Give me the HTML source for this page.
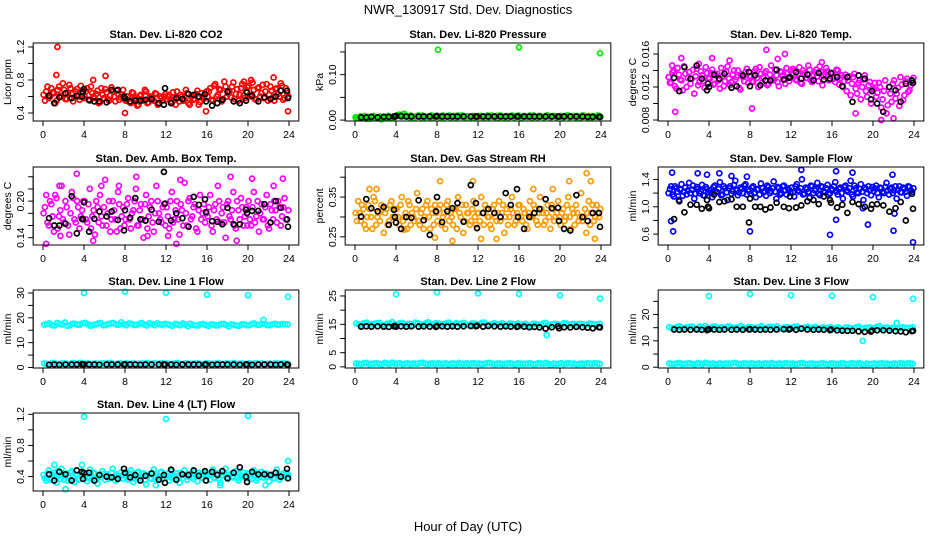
<!DOCTYPE html>
<html><head><meta charset="utf-8"><title>NWR_130917 Std. Dev. Diagnostics</title>
<style>
html,body{margin:0;padding:0;background:#fff;}
svg{display:block;font-family:"Liberation Sans",Arial,sans-serif;}
</style></head>
<body>
<svg id="chart" width="936" height="540" viewBox="0 0 936 540">
<text x="468" y="14" text-anchor="middle" font-size="13">NWR_130917  Std. Dev. Diagnostics</text>
<text x="468" y="531" text-anchor="middle" font-size="13">Hour of Day (UTC)</text>
</svg>
<script>
// shared reference-measurement hours (black points)
const blackHours=[0.6,1.1,1.6,2.2,2.8,3.3,3.8,3.9,4.0,4.5,5.0,5.5,6.2,6.7,7.3,7.9,8.0,8.5,9.0,9.5,10.0,10.6,11.3,11.8,11.9,12.5,13.0,13.6,14.2,14.7,15.2,15.8,15.9,16.5,17.0,17.5,18.0,18.6,19.2,19.8,19.9,20.4,21.0,21.6,22.2,22.7,23.2,23.8,23.9];
const xTicks=[0,4,8,12,16,20,24];
const xTickLabels=["0","4","8","12","16","20","24"];

// Panel 1: CO2
const co2Cloud=[0.62,0.66,0.58,0.7,0.64,0.55,0.72,0.6,0.68,0.57,0.74,0.63,0.59,0.69,0.56,0.65,
0.6,0.7,0.55,0.64,0.58,0.67,0.53,0.62,0.69,0.57,0.61,0.66,0.54,0.63,0.59,0.68,
0.55,0.6,0.52,0.64,0.57,0.5,0.62,0.56,0.66,0.53,0.59,0.55,0.63,0.51,0.58,0.6,
0.57,0.62,0.52,0.59,0.66,0.54,0.6,0.56,0.64,0.5,0.61,0.57,0.67,0.53,0.6,0.62,
0.6,0.7,0.55,0.75,0.62,0.68,0.57,0.72,0.64,0.59,0.77,0.63,0.55,0.7,0.61,0.66,
0.73,0.6,0.68,0.56,0.71,0.64,0.58,0.75,0.62,0.67,0.55,0.7,0.6,0.73,0.58,0.64];
const co2Cloud2=[0.55,0.72,0.6,0.65,0.52,0.68,0.61,0.76,0.57,0.64,0.7,0.54,0.66,0.6,0.73,0.58,
0.66,0.56,0.72,0.6,0.63,0.52,0.7,0.58,0.65,0.55,0.71,0.6,0.67,0.56,0.62,0.57,
0.6,0.53,0.65,0.58,0.49,0.61,0.55,0.68,0.52,0.6,0.57,0.64,0.5,0.6,0.55,0.63,
0.6,0.54,0.65,0.5,0.58,0.62,0.55,0.68,0.52,0.6,0.56,0.63,0.5,0.64,0.57,0.66,
0.66,0.56,0.73,0.6,0.69,0.54,0.78,0.6,0.66,0.72,0.57,0.69,0.62,0.75,0.58,0.71,
0.62,0.77,0.57,0.7,0.6,0.74,0.66,0.55,0.72,0.59,0.69,0.63,0.76,0.56,0.7,0.6];
const co2ExtraHours=[1.4,1.3,6.1,8.0,15.9,23.9,22.5,4.9,19.6,20.3];
const co2ExtraVals=[1.2,0.86,0.85,0.4,0.42,0.42,0.83,0.8,0.78,0.8];
const co2Black=[0.61,0.52,0.59,0.64,0.58,0.61,0.6,0.66,0.69,0.56,0.54,0.54,0.53,0.68,0.68,0.6,0.58,0.54,0.55,0.55,0.56,0.57,0.52,0.5,0.7,0.52,0.58,0.57,0.63,0.62,0.6,0.63,0.54,0.49,0.52,0.56,0.66,0.54,0.52,0.55,0.65,0.61,0.54,0.59,0.57,0.6,0.67,0.67,0.58];
const co2Ticks=[0.4,0.6,0.8,1.0,1.2];
const co2TickLabels=["0.4","","0.8","","1.2"];

// Panel 2: Pressure
const presCloud=[.006,.004,.008,.005,.003,.007,.005,.009,.004,.006,.002,.007,.005,.008,.004,.006,
.010,.012,.007,.014,.009,.006,.008,.005,.009,.007,.010,.006,.008,.005,.009,.007,
.008,.006,.010,.007,.009,.005,.008,.006,.010,.007,.009,.005,.008,.006,.009,.007,
.007,.009,.005,.008,.006,.010,.007,.009,.005,.008,.006,.009,.007,.010,.006,.008,
.008,.006,.009,.007,.010,.005,.008,.006,.009,.007,.008,.010,.006,.009,.007,.008,
.009,.006,.008,.010,.007,.009,.005,.008,.006,.010,.007,.009,.006,.008,.007,.009];
const presCloud2=[.004,.007,.005,.009,.006,.003,.008,.006,.005,.008,.004,.006,.009,.005,.007,.008,
.011,.008,.013,.009,.007,.010,.006,.008,.010,.006,.009,.008,.007,.010,.006,.009,
.007,.009,.006,.008,.010,.007,.009,.006,.008,.010,.006,.009,.007,.008,.006,.009,
.009,.006,.008,.010,.007,.008,.006,.009,.010,.007,.008,.006,.009,.007,.008,.010,
.006,.009,.007,.008,.006,.010,.007,.009,.008,.006,.010,.007,.008,.009,.006,.008,
.007,.009,.010,.006,.008,.007,.009,.006,.010,.008,.006,.008,.009,.007,.010,.007];
const presExtraHours=[8.1,16.0,23.9];
const presExtraVals=[0.155,0.16,0.147];
const presBlack=[.006,.006,.007,.006,.007,.007,.008,.008,.009,.009,.008,.008,.008,.008,.008,.008,.009,.008,.008,.008,.008,.008,.008,.008,.008,.008,.008,.008,.008,.008,.008,.008,.008,.008,.008,.008,.008,.008,.008,.008,.008,.008,.008,.008,.008,.007,.007,.007,.007];
const presTicks=[0,0.05,0.10,0.15];
const presTickLabels=["0.00","","0.10",""];

// Panel 3: Li-820 Temp
const ltCloud=[.0132,.0125,.0140,.0118,.0135,.0128,.0145,.0120,.0138,.0130,.0112,.0142,.0126,.0134,.0119,.0137,
.0130,.0141,.0124,.0136,.0118,.0133,.0127,.0145,.0122,.0135,.0129,.0140,.0117,.0132,.0138,.0125,
.0133,.0126,.0142,.0120,.0136,.0131,.0139,.0124,.0146,.0128,.0134,.0121,.0138,.0130,.0143,.0127,
.0135,.0140,.0128,.0144,.0124,.0137,.0131,.0141,.0126,.0138,.0133,.0145,.0122,.0136,.0139,.0129,
.0137,.0126,.0140,.0131,.0120,.0135,.0128,.0110,.0132,.0118,.0125,.0105,.0129,.0115,.0122,.0100,
.0118,.0108,.0125,.0095,.0115,.0088,.0120,.0102,.0128,.0112,.0097,.0123,.0110,.0130,.0116,.0125];
const ltCloud2=[.0125,.0138,.0121,.0143,.0129,.0116,.0136,.0131,.0124,.0141,.0133,.0122,.0139,.0127,.0144,.0131,
.0137,.0123,.0134,.0128,.0143,.0121,.0138,.0130,.0126,.0140,.0132,.0119,.0136,.0127,.0142,.0133,
.0127,.0139,.0131,.0144,.0125,.0137,.0122,.0135,.0130,.0141,.0126,.0139,.0133,.0124,.0137,.0140,
.0142,.0129,.0136,.0125,.0140,.0131,.0146,.0128,.0135,.0141,.0127,.0138,.0133,.0143,.0128,.0136,
.0130,.0141,.0123,.0134,.0127,.0115,.0133,.0124,.0136,.0112,.0128,.0120,.0134,.0108,.0126,.0117,
.0125,.0113,.0120,.0105,.0128,.0098,.0112,.0124,.0106,.0119,.0132,.0104,.0127,.0114,.0122,.0131];
const ltExtraHours=[0.4,1.3,9.6,11.4,0.7,8.2,15.0,20.8,22.0,18.3,6.0,4.3,3.0,10.7];
const ltExtraVals=[.0146,.0155,.0165,.0160,.0090,.0094,.0150,.0080,.0082,.0088,.0152,.0155,.0148,.0154];
const ltBlack=[.0131,.0115,.0144,.0130,.0146,.0130,.0116,.0124,.0120,.0135,.0130,.0136,.0119,.0121,.0134,.0138,.0121,.0134,.0122,.0128,.0128,.0141,.0129,.0131,.0132,.0138,.0130,.0135,.0128,.0137,.0129,.0130,.0137,.0132,.0121,.0132,.0102,.0134,.0130,.0105,.0115,.0100,.0090,.0120,.0116,.0102,.0124,.0128,.0125];
const ltTicks=[0.008,0.010,0.012,0.014,0.016];
const ltTickLabels=["0.008","","0.012","","0.016"];

// Panel 4: Amb Box Temp
const abCloud=[.18,.21,.16,.195,.15,.205,.175,.225,.165,.19,.145,.215,.17,.2,.155,.185,
.2,.165,.22,.175,.145,.19,.21,.16,.235,.18,.15,.2,.17,.215,.155,.19,
.17,.205,.155,.185,.22,.16,.195,.14,.21,.175,.2,.15,.225,.18,.165,.195,
.19,.155,.215,.17,.2,.145,.185,.23,.16,.205,.175,.195,.15,.21,.18,.165,
.175,.21,.15,.195,.225,.165,.19,.14,.2,.17,.215,.155,.185,.205,.16,.19,
.2,.16,.215,.175,.15,.195,.17,.21,.155,.185,.2,.165,.19,.175,.205,.17];
const abCloud2=[.19,.165,.2,.175,.21,.155,.185,.17,.2,.16,.18,.205,.165,.19,.175,.2,
.17,.195,.155,.185,.2,.165,.175,.19,.16,.2,.17,.185,.15,.195,.175,.16,
.195,.17,.18,.2,.16,.185,.17,.195,.155,.19,.165,.18,.2,.17,.19,.16,
.175,.2,.165,.185,.17,.195,.16,.18,.2,.17,.19,.155,.185,.17,.195,.18,
.19,.16,.185,.17,.2,.18,.165,.195,.175,.185,.16,.2,.17,.19,.175,.16,
.17,.19,.165,.2,.18,.17,.19,.16,.195,.17,.185,.2,.16,.19,.17,.185];
const abExtraHours=[0.3,1.7,3.3,4.9,9.1,10.2,12.2,13.4,13.0,18.3,18.9,20.4,22.5,23.4,1.6,5.7,7.4];
const abExtraVals=[0.13,0.143,0.245,0.135,0.24,0.143,0.143,0.235,0.13,0.24,0.135,0.237,0.225,0.237,0.225,0.225,0.225];
const abBlack=[0.172,0.16,0.16,0.163,0.208,0.147,0.171,0.17,0.198,0.15,0.171,0.183,0.175,0.183,0.169,0.152,0.185,0.173,0.205,0.17,0.168,0.186,0.166,0.248,0.196,0.168,0.18,0.172,0.158,0.207,0.194,0.203,0.182,0.167,0.166,0.162,0.189,0.162,0.162,0.186,0.18,0.184,0.184,0.195,0.165,0.2,0.189,0.17,0.158];
const abTicks=[0.14,0.16,0.18,0.20,0.22,0.24];
const abTickLabels=["0.14","","","0.20","",""];

// Panel 5: Gas Stream RH
const rhCloud=[.31,.34,.29,.32,.27,.33,.30,.35,.28,.31,.33,.26,.32,.29,.34,.30,
.32,.28,.35,.30,.27,.33,.31,.29,.36,.28,.32,.30,.34,.27,.31,.33,
.29,.33,.30,.27,.34,.31,.28,.32,.35,.30,.26,.33,.31,.29,.34,.28,
.31,.35,.28,.32,.30,.27,.33,.29,.34,.31,.26,.32,.30,.35,.28,.31,
.33,.29,.31,.27,.34,.30,.32,.28,.35,.31,.29,.33,.27,.32,.30,.34,
.28,.32,.30,.35,.27,.31,.33,.29,.36,.30,.26,.34,.31,.29,.33,.30];
const rhCloud2=[.29,.31,.33,.28,.30,.32,.27,.34,.30,.29,.32,.31,.28,.33,.30,.32,
.30,.33,.29,.31,.34,.28,.30,.32,.29,.31,.27,.33,.30,.32,.28,.31,
.32,.28,.31,.33,.29,.30,.32,.27,.31,.33,.29,.31,.28,.32,.30,.31,
.29,.31,.33,.30,.28,.32,.30,.31,.29,.33,.30,.28,.32,.31,.29,.33,
.30,.32,.28,.31,.30,.33,.29,.31,.32,.28,.31,.30,.33,.29,.31,.30,
.31,.29,.33,.30,.32,.28,.31,.30,.29,.32,.31,.28,.33,.30,.31,.32];
const rhExtraHours=[4.8,7.8,8.3,11.5,12.3,13.8,17.4,22.6,23.0,23.4,9.5,1.4,2.1,19.3,20.9];
const rhExtraVals=[0.268,0.248,0.39,0.39,0.245,0.245,0.37,0.41,0.39,0.245,0.24,0.37,0.37,0.37,0.39];
const rhBlack=[0.301,0.345,0.322,0.314,0.325,0.28,0.318,0.3,0.286,0.27,0.3,0.298,0.342,0.292,0.255,0.314,0.35,0.287,0.314,0.322,0.335,0.288,0.38,0.335,0.272,0.31,0.32,0.31,0.30,0.36,0.33,0.37,0.30,0.27,0.30,0.31,0.32,0.345,0.322,0.323,0.29,0.27,0.266,0.355,0.3,0.29,0.31,0.31,0.275];
const rhTicks=[0.25,0.30,0.35,0.40];
const rhTickLabels=["0.25","","0.35",""];

// Panel 6: Sample Flow
const sfCloud=[1.2,1.3,1.15,1.27,1.1,1.33,1.22,1.18,1.35,1.25,1.12,1.29,1.2,1.32,1.16,1.26,
1.24,1.14,1.31,1.21,1.36,1.18,1.27,1.1,1.3,1.23,1.38,1.17,1.28,1.2,1.33,1.25,
1.19,1.3,1.14,1.26,1.34,1.21,1.16,1.29,1.23,1.37,1.12,1.27,1.2,1.31,1.18,1.25,
1.28,1.15,1.33,1.22,1.4,1.19,1.26,1.13,1.3,1.24,1.35,1.17,1.29,1.21,1.32,1.2,
1.25,1.36,1.18,1.28,1.12,1.31,1.22,1.38,1.15,1.27,1.2,1.33,1.1,1.26,1.3,1.17,
1.23,1.31,1.14,1.27,1.2,1.35,1.18,1.28,1.24,1.12,1.3,1.21,1.26,1.16,1.29,1.22];
const sfCloud2=[1.26,1.18,1.3,1.22,1.25,1.16,1.28,1.24,1.2,1.31,1.19,1.26,1.23,1.17,1.29,1.21,
1.2,1.29,1.22,1.26,1.17,1.3,1.21,1.27,1.19,1.32,1.24,1.21,1.26,1.31,1.18,1.23,
1.28,1.2,1.25,1.18,1.27,1.23,1.31,1.2,1.27,1.22,1.29,1.18,1.3,1.24,1.27,1.21,
1.21,1.3,1.24,1.27,1.18,1.28,1.22,1.31,1.2,1.26,1.19,1.3,1.23,1.27,1.18,1.26,
1.3,1.22,1.26,1.2,1.29,1.24,1.27,1.18,1.31,1.21,1.26,1.22,1.28,1.2,1.24,1.29,
1.27,1.2,1.28,1.22,1.29,1.24,1.26,1.2,1.3,1.25,1.21,1.28,1.22,1.3,1.24,1.27];
const sfExtraHours=[0.4,0.3,0.5,2.9,3.8,5.0,6.2,7.7,8.0,13.0,15.8,16.4,16.4,18.0,19.5,21.9,22.0,22.1,23.9,19.0];
const sfExtraVals=[1.5,0.79,0.64,1.49,1.47,1.49,1.45,1.44,0.64,1.54,0.59,0.81,1.52,1.5,0.74,1.47,0.65,0.9,0.48,0.98];
const sfBlack=[0.82,1.08,0.92,1.03,1.03,0.97,1.1,1.0,0.98,1.18,1.07,1.08,1.11,1.0,1.0,0.77,1.12,1.0,1.0,0.96,0.99,1.06,1.0,0.98,1.15,0.99,1.02,1.08,1.1,1.04,1.15,1.1,1.06,0.99,1.03,0.91,1.07,1.04,1.0,0.97,1.03,1.04,1.02,0.93,0.98,1.07,0.8,1.19,0.97];
const sfTicks=[0.6,0.8,1.0,1.2,1.4];
const sfTickLabels=["0.6","","1.0","","1.4"];

// Panel 7: Line 1 Flow
const l1Upper=[17.2,17.8,16.9,17.5,18.1,17.0,17.6,17.3,18.0,16.8,17.4,17.9,17.1,17.7,17.3,18.2,
17.0,17.6,17.2,17.9,16.9,17.5,17.8,17.1,17.4,16.8,17.3,17.7,16.6,17.2,16.9,17.5,
16.7,17.3,17.0,17.6,16.5,17.2,16.8,17.4,17.0,17.7,17.2,17.5,17.0,17.6,17.3,17.4];
const l1Upper2=[17.5,17.0,17.9,17.3,16.8,17.6,17.2,17.8,17.4,17.1,17.7,17.0,17.5,17.9,17.2,17.4,17.7,17.1,17.5,17.3,17.8,17.0,17.4,17.6,17.1,17.5,17.0,17.3,17.6,17.0,17.4,17.1,17.3,16.9,17.5,17.1,17.4,16.9,17.3,17.0,17.5,17.2,17.6,17.1,17.4,17.2,17.5,17.3];
const l1Lower=[1.6,1.4,1.8,1.5,1.7,1.3,1.6,1.9,1.5,1.4,1.7,1.6,1.5,1.8,1.4,1.6,1.7,1.5,1.3,1.6,1.8,1.5,1.4,1.7,1.6,1.5,1.8,1.4,1.6,1.5,1.7,1.3,1.6,1.5,1.7,1.4,1.6,1.8,1.5,1.4,1.7,1.6,1.5,1.3,1.6,1.7,1.5,1.6];
const l1Lower2=[1.5,1.7,1.4,1.6,1.5,1.8,1.4,1.6,1.7,1.5,1.4,1.6,1.8,1.5,1.6,1.4,1.5,1.7,1.6,1.4,1.5,1.7,1.6,1.5,1.4,1.7,1.5,1.6,1.4,1.6,1.5,1.7,1.5,1.6,1.4,1.7,1.5,1.4,1.6,1.5,1.4,1.7,1.6,1.5,1.4,1.6,1.7,1.5];
const l1ExtraHours=[4.0,8.0,12.0,16.0,20.0,23.9,21.5];
const l1ExtraVals=[30.0,30.5,30.1,29.3,29.1,28.5,19.2];
const l1Black=[1.1,1.2,1.1,1.2,1.2,1.2,1.3,1.2,1.3,1.2,1.2,1.1,1.2,1.2,1.2,1.2,1.3,1.2,1.2,1.1,1.2,1.2,1.2,1.2,1.2,1.2,1.1,1.2,1.2,1.2,1.2,1.2,1.2,1.1,1.2,1.2,1.2,1.2,1.1,1.2,1.2,1.1,1.2,1.2,1.2,1.1,1.2,1.2,1.1];
const l1Ticks=[0,5,10,15,20,25,30];
const l1TickLabels=["0","","10","","20","","30"];

// Panel 8: Line 2 Flow
const l2Upper=[15.3,14.8,15.6,15.0,15.4,14.7,15.2,15.8,14.9,15.5,15.1,14.6,15.4,15.0,15.7,14.8,
15.3,15.1,15.6,14.9,15.2,15.5,14.7,15.3,15.0,15.6,14.8,15.4,15.1,14.9,15.3,15.0,
14.6,15.2,14.4,15.1,14.8,15.5,14.9,15.2,14.7,15.3,15.0,14.8,15.2,14.9,15.1,15.0];
const l2Upper2=[15.0,15.4,14.9,15.2,15.5,14.8,15.3,15.0,15.4,14.9,15.2,15.6,14.9,15.3,15.1,15.4,15.0,15.3,14.9,15.4,15.1,14.8,15.3,15.0,15.5,14.9,15.2,15.0,15.4,14.8,15.1,15.3,15.0,14.7,15.2,14.9,15.3,14.8,15.1,15.0,15.4,14.9,15.2,15.1,14.8,15.3,15.0,15.2];
const l2Lower=[1.2,1.0,1.4,1.1,1.3,0.9,1.2,1.5,1.1,1.0,1.3,1.2,1.1,1.4,1.0,1.2,1.3,1.1,0.9,1.2,1.4,1.1,1.0,1.3,1.2,1.1,1.4,1.0,1.2,1.1,1.3,0.9,1.2,1.1,1.3,1.0,1.2,1.4,0.6,1.0,1.3,1.2,1.1,0.9,1.2,1.3,1.1,1.2];
const l2Lower2=[1.1,1.3,1.0,1.2,1.1,1.4,1.0,1.2,1.3,1.1,1.0,1.2,1.4,1.1,1.2,1.0,1.1,1.3,1.2,1.0,1.1,1.3,1.2,1.1,1.0,1.3,1.1,1.2,1.0,1.2,1.1,1.3,1.1,1.2,1.0,1.3,1.1,1.0,1.2,1.1,1.0,1.3,1.2,1.1,1.0,1.2,1.3,1.1];
const l2ExtraHours=[4.0,8.0,12.0,16.0,18.7,20.0,23.9];
const l2ExtraVals=[25.6,26.3,25.9,25.7,11.2,25.2,24.1];
const l2Black=[14.2,14.3,14.2,14.3,14.2,14.1,14.3,14.4,14.2,14.3,14.2,14.3,14.2,14.3,14.2,14.1,14.4,14.3,14.2,14.3,14.2,14.3,14.4,14.3,14.5,14.2,14.4,14.3,14.2,14.3,14.2,14.1,14.3,14.2,14.0,14.1,13.9,13.5,14.0,14.3,13.6,14.0,13.9,14.1,14.0,13.8,13.6,14.0,13.9];
const l2Ticks=[0,5,10,15,20,25];
const l2TickLabels=["0","5","","15","","25"];

// Panel 9: Line 3 Flow
const l3Upper=[15.2,14.7,15.5,15.0,15.3,14.6,15.4,15.7,14.9,15.4,15.1,14.6,15.3,15.0,15.6,14.8,
15.2,15.0,15.6,14.9,15.3,15.5,14.7,15.2,15.0,15.4,14.8,15.3,15.0,14.7,15.2,14.9,
14.5,15.1,14.3,15.0,14.7,15.4,14.8,15.1,14.6,15.6,14.9,14.7,15.1,14.8,15.0,14.9];
const l3Upper2=[14.9,15.3,14.8,15.1,15.4,14.7,15.2,14.9,15.3,14.8,15.1,15.5,14.8,15.2,15.0,15.3,14.9,15.2,14.8,15.3,15.0,14.7,15.2,14.9,15.4,14.8,15.1,14.9,15.3,14.7,15.0,15.2,14.9,14.6,15.1,14.8,15.2,14.7,15.0,14.9,15.3,14.8,15.1,15.0,14.7,15.2,14.9,15.1];
const l3Lower=[1.4,1.2,1.6,1.3,1.5,1.1,1.4,1.7,1.3,1.2,1.5,1.4,1.3,1.6,1.2,1.4,1.5,1.3,1.1,1.4,1.6,1.3,1.2,1.5,1.4,1.3,1.6,1.2,1.4,1.3,1.5,1.1,1.4,1.3,1.5,1.2,1.4,1.6,0.8,1.2,1.5,1.4,1.3,1.1,1.4,1.5,1.3,1.4];
const l3Lower2=[1.3,1.5,1.2,1.4,1.3,1.6,1.2,1.4,1.5,1.3,1.2,1.4,1.6,1.3,1.4,1.2,1.3,1.5,1.4,1.2,1.3,1.5,1.4,1.3,1.2,1.5,1.3,1.4,1.2,1.4,1.3,1.5,1.3,1.4,1.2,1.5,1.3,1.2,1.4,1.3,1.2,1.5,1.4,1.3,1.2,1.4,1.5,1.3];
const l3ExtraHours=[4.0,8.0,12.0,16.0,19.0,20.0,23.9,22.3];
const l3ExtraVals=[27.0,27.8,27.3,27.1,10.0,26.6,26.0,16.8];
const l3Black=[14.3,14.2,14.3,14.2,14.3,14.2,14.1,14.3,14.4,14.3,14.2,14.3,14.2,14.3,14.2,14.3,14.4,14.3,14.2,14.3,14.2,14.3,14.4,14.3,14.5,14.2,14.6,14.3,14.2,14.3,14.2,14.1,14.3,14.0,13.9,13.8,13.8,13.6,13.4,13.5,13.9,14.0,14.0,13.9,13.7,13.6,13.3,13.7,13.8];
const l3Ticks=[0,5,10,15,20,25];
const l3TickLabels=["0","","10","","20",""];

// Panel 10: Line 4 (LT) Flow
const l4Cloud=[.42,.35,.48,.38,.45,.32,.41,.5,.36,.44,.39,.47,.33,.42,.37,.46,
.4,.34,.49,.38,.44,.31,.42,.47,.36,.43,.39,.5,.35,.41,.45,.37,
.43,.36,.48,.33,.4,.46,.38,.44,.3,.42,.37,.49,.35,.41,.46,.38,
.41,.35,.47,.39,.44,.32,.42,.48,.36,.43,.4,.46,.34,.42,.38,.45,
.4,.36,.49,.38,.44,.32,.42,.5,.37,.43,.39,.47,.35,.41,.45,.38,
.43,.37,.48,.35,.41,.46,.39,.44,.34,.42,.38,.49,.36,.43,.4,.45];
const l4Cloud2=[.38,.44,.36,.42,.4,.47,.37,.43,.41,.35,.45,.39,.43,.36,.41,.44,
.43,.38,.42,.45,.36,.41,.39,.44,.42,.37,.45,.4,.43,.38,.41,.42,
.39,.44,.41,.37,.45,.4,.43,.36,.42,.38,.44,.41,.39,.45,.37,.42,
.44,.39,.42,.37,.41,.45,.38,.42,.4,.44,.37,.42,.45,.39,.43,.4,
.42,.45,.39,.43,.37,.41,.45,.39,.42,.4,.44,.38,.43,.41,.39,.44,
.4,.44,.41,.38,.45,.39,.42,.43,.4,.37,.45,.42,.39,.44,.41,.42];
const l4ExtraHours=[4.0,12.0,20.0,23.9,2.2,1.1,3.8,11.0,17.3,21.7];
const l4ExtraVals=[1.17,1.14,1.18,0.6,0.24,0.55,0.55,0.29,0.29,0.29];
const l4Black=[0.43,0.35,0.46,0.43,0.35,0.48,0.46,0.37,0.45,0.45,0.35,0.42,0.4,0.39,0.37,0.5,0.45,0.39,0.42,0.35,0.41,0.44,0.36,0.42,0.32,0.49,0.36,0.43,0.42,0.48,0.41,0.47,0.35,0.46,0.42,0.47,0.38,0.45,0.52,0.4,0.33,0.46,0.43,0.43,0.42,0.45,0.4,0.5,0.38];
const l4Ticks=[0.4,0.6,0.8,1.0,1.2];
const l4TickLabels=["0.4","","0.8","","1.2"];

const NS="http://www.w3.org/2000/svg";
const svg=document.getElementById('chart');
function mk(tag,attrs,parent){const e=document.createElementNS(NS,tag);for(const k in attrs)e.setAttribute(k,attrs[k]);(parent||svg).appendChild(e);return e;}

const colX0=[43,355,668];
const rowTop=[43,167,290,413];
const pxPerHour=10.25, boxH=78;

function drawPanel(p){
  const g=mk('g',{});
  
  
  const x0=colX0[p.col], top=rowTop[p.row], bot=top+boxH;
  const xs=h=>x0+h*pxPerHour;
  const ys=v=>bot-(v-p.ymin)/(p.ymax-p.ymin)*boxH;
  const L=xs(-0.96), R=xs(24.96);
  const t=mk('text',{x:(L+R)/2,y:top-5,'text-anchor':'middle','font-size':'11','font-weight':'bold'},g);
  t.textContent=p.title;
  
  
  const pts=mk('g',{fill:'none','stroke-width':'1.7'},g);
  
  
  function dot(h,v,c){
    const y=ys(v);
    const c1=mk('circle',{cx:xs(h).toFixed(1),cy:y.toFixed(1),r:'2.5',stroke:c},pts);
    
    
  }
  p.clouds.forEach(cl=>{
    const n=cl.vals.length;
    cl.vals.forEach((v,i)=>dot((i+cl.off)*24/n,v,p.color));
  });
  p.exH.forEach((h,i)=>dot(h,p.exV[i],p.color));
  const nb=Math.min(blackHours.length,p.black.length);
  for(let i=0;i<nb;i++)dot(blackHours[i],p.black[i],'#000');
  const box=mk('rect',{x:L,y:top,width:R-L,height:boxH,fill:'none',stroke:'#000','stroke-width':'1'},g);
  
  
  const xa=mk('g',{stroke:'#000','stroke-width':'1'},g);
  
  
  mk('line',{x1:xs(0),x2:xs(24),y1:bot,y2:bot},xa);
  xTicks.forEach((h,i)=>{
    mk('line',{x1:xs(h),x2:xs(h),y1:bot,y2:bot+5},xa);
    const tl=mk('text',{x:xs(h),y:bot+17,'text-anchor':'middle','font-size':'10.5',stroke:'none'},g);
    tl.textContent=xTickLabels[i];
    
    
  });
  const ya=mk('g',{stroke:'#000','stroke-width':'1'},g);
  
  
  mk('line',{x1:L,x2:L,y1:ys(p.ticks[0]),y2:ys(p.ticks[p.ticks.length-1])},ya);
  p.ticks.forEach((v,i)=>{
    const y=ys(v);
    mk('line',{x1:L-5,x2:L,y1:y,y2:y},ya);
    if(p.tickLabels[i]){
      const tl=mk('text',{x:L-9,y:y,'text-anchor':'middle','font-size':'10.5',transform:`rotate(-90 ${L-9} ${y})`},g);
      tl.textContent=p.tickLabels[i];
      
      
    }
  });
  const yt=mk('text',{x:L-22,y:(top+bot)/2,'text-anchor':'middle','font-size':'10.5',transform:`rotate(-90 ${L-22} ${(top+bot)/2})`},g);
  yt.textContent=p.ylab;
  
  
}

const panels=[
 {name:'co2',title:'Stan. Dev. Li-820 CO2',ylab:'Licor ppm',col:0,row:0,ymin:0.303,ymax:1.248,color:'#ff0000',clouds:[{vals:co2Cloud,off:0.25},{vals:co2Cloud2,off:0.75}],exH:co2ExtraHours,exV:co2ExtraVals,black:co2Black,ticks:co2Ticks,tickLabels:co2TickLabels},
 {name:'pressure',title:'Stan. Dev. Li-820 Pressure',ylab:'kPa',col:1,row:0,ymin:-0.002,ymax:0.1697,color:'#00ee00',clouds:[{vals:presCloud,off:0.25},{vals:presCloud2,off:0.75}],exH:presExtraHours,exV:presExtraVals,black:presBlack,ticks:presTicks,tickLabels:presTickLabels},
 {name:'li820-temp',title:'Stan. Dev. Li-820 Temp.',ylab:'degrees C',col:2,row:0,ymin:0.00788,ymax:0.01733,color:'#ff00ff',clouds:[{vals:ltCloud,off:0.25},{vals:ltCloud2,off:0.75}],exH:ltExtraHours,exV:ltExtraVals,black:ltBlack,ticks:ltTicks,tickLabels:ltTickLabels},
 {name:'amb-box-temp',title:'Stan. Dev. Amb. Box Temp.',ylab:'degrees C',col:0,row:1,ymin:0.128,ymax:0.256,color:'#ff00ff',clouds:[{vals:abCloud,off:0.25},{vals:abCloud2,off:0.75}],exH:abExtraHours,exV:abExtraVals,black:abBlack,ticks:abTicks,tickLabels:abTickLabels},
 {name:'gas-stream-rh',title:'Stan. Dev. Gas Stream RH',ylab:'percent',col:1,row:1,ymin:0.2296,ymax:0.4256,color:'#ff9a00',clouds:[{vals:rhCloud,off:0.25},{vals:rhCloud2,off:0.75}],exH:rhExtraHours,exV:rhExtraVals,black:rhBlack,ticks:rhTicks,tickLabels:rhTickLabels},
 {name:'sample-flow',title:'Stan. Dev. Sample Flow',ylab:'ml/min',col:2,row:1,ymin:0.441,ymax:1.582,color:'#0000ff',clouds:[{vals:sfCloud,off:0.25},{vals:sfCloud2,off:0.75}],exH:sfExtraHours,exV:sfExtraVals,black:sfBlack,ticks:sfTicks,tickLabels:sfTickLabels},
 {name:'line1-flow',title:'Stan. Dev. Line 1 Flow',ylab:'ml/min',col:0,row:2,ymin:-0.2,ymax:31.2,color:'#00ffff',clouds:[{vals:l1Upper,off:0.25},{vals:l1Upper2,off:0.75},{vals:l1Lower,off:0.25},{vals:l1Lower2,off:0.75}],exH:l1ExtraHours,exV:l1ExtraVals,black:l1Black,ticks:l1Ticks,tickLabels:l1TickLabels},
 {name:'line2-flow',title:'Stan. Dev. Line 2 Flow',ylab:'ml/min',col:1,row:2,ymin:-0.4,ymax:27.1,color:'#00ffff',clouds:[{vals:l2Upper,off:0.25},{vals:l2Upper2,off:0.75},{vals:l2Lower,off:0.25},{vals:l2Lower2,off:0.75}],exH:l2ExtraHours,exV:l2ExtraVals,black:l2Black,ticks:l2Ticks,tickLabels:l2TickLabels},
 {name:'line3-flow',title:'Stan. Dev. Line 3 Flow',ylab:'ml/min',col:2,row:2,ymin:-0.3,ymax:29.3,color:'#00ffff',clouds:[{vals:l3Upper,off:0.25},{vals:l3Upper2,off:0.75},{vals:l3Lower,off:0.25},{vals:l3Lower2,off:0.75}],exH:l3ExtraHours,exV:l3ExtraVals,black:l3Black,ticks:l3Ticks,tickLabels:l3TickLabels},
 {name:'line4-flow',title:'Stan. Dev. Line 4 (LT) Flow',ylab:'ml/min',col:0,row:3,ymin:0.215,ymax:1.217,color:'#00ffff',clouds:[{vals:l4Cloud,off:0.25},{vals:l4Cloud2,off:0.75}],exH:l4ExtraHours,exV:l4ExtraVals,black:l4Black,ticks:l4Ticks,tickLabels:l4TickLabels}
];
panels.forEach(drawPanel);
</script>
</body></html>
